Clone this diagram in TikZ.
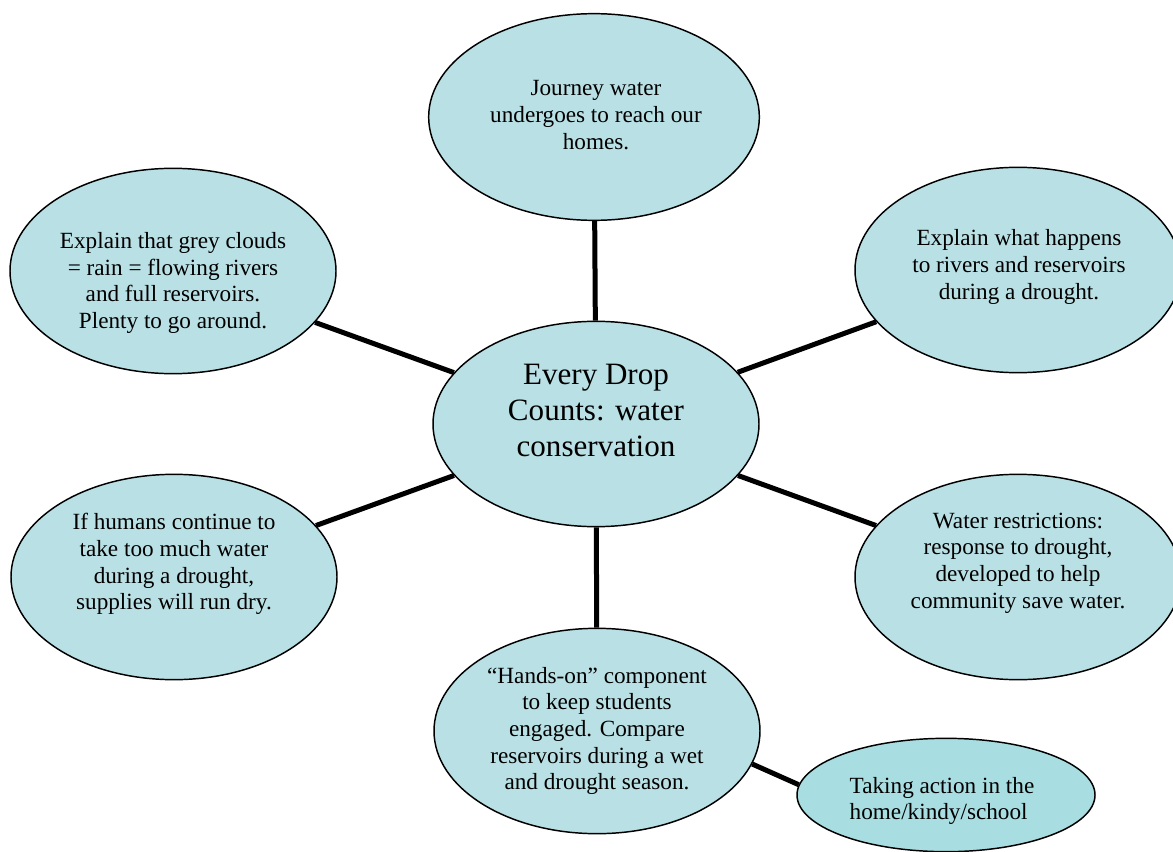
\documentclass[tikz,border=0pt]{standalone}
\usepackage{fontspec}
\setmainfont{Liberation Serif}
\usetikzlibrary{shapes.geometric}
\definecolor{bubblefill}{RGB}{185,224,228}
\definecolor{actionfill}{RGB}{168,222,225}
\tikzset{every picture/.style={line width=0.75pt}}
\tikzset{
  bubble/.style={ellipse,draw=black,line width=1.1pt,fill=bubblefill,inner sep=0pt,minimum width=244.5pt,minimum height=154pt},
  link/.style={line width=3.75pt},
  bubbletext/.style={align=center,inner sep=0pt,font=\fontsize{17.4}{20}\selectfont},
  hubtext/.style={align=center,inner sep=0pt,font=\fontsize{23.3}{27}\selectfont}
}
\begin{document}
\begin{tikzpicture}[x=0.75pt,y=0.75pt,yscale=-1,xscale=1]
\useasboundingbox (0,0) rectangle (1173,852);

\node[bubble] (hub) at (596,424) {};
\node[bubble,minimum width=248pt,minimum height=155pt] (journey) at (594,117) {};
\node[bubble] (clouds) at (173,271) {};
\node[bubble] (drought) at (1018,270) {};
\node[bubble] (humans) at (174,577) {};
\node[bubble] (restrict) at (1018,577) {};
\node[bubble] (handson) at (597,731) {};
\node[bubble,fill=actionfill,minimum width=223.5pt,minimum height=85pt] (action) at (946,795) {};

\draw[link] (hub) -- (journey);
\draw[link] (hub) -- (clouds);
\draw[link] (hub) -- (drought);
\draw[link] (hub) -- (humans);
\draw[link] (hub) -- (restrict);
\draw[link] (hub) -- (handson);
\draw[link] (handson.-12) -- (action.176);

\node[hubtext] (hubt) at (596,410) {Every Drop\\Counts: water\\conservation};
\node[bubbletext] (journeyt) at (596,115) {Journey water\\undergoes to reach our\\homes.};
\node[bubbletext] (cloudst) at (173,283) {Explain that grey clouds\\= rain = flowing rivers\\and full reservoirs.\\Plenty to go around.};
\node[bubbletext] (droughtt) at (1019,267) {Explain what happens\\to rivers and reservoirs\\during a drought.};
\node[bubbletext] (humanst) at (174,564) {If humans continue to\\take too much water\\during a drought,\\supplies will run dry.};
\node[bubbletext] (restrictt) at (1018,563) {Water restrictions:\\response to drought,\\developed to help\\community save water.};
\node[bubbletext] (handsont) at (597,731) {``Hands-on'' component\\to keep students\\engaged. Compare\\reservoirs during a wet\\and drought season.};
\node[bubbletext,align=left] (actiont) at (942,801) {Taking action in the\\home/kindy/school};
\end{tikzpicture}
\end{document}
